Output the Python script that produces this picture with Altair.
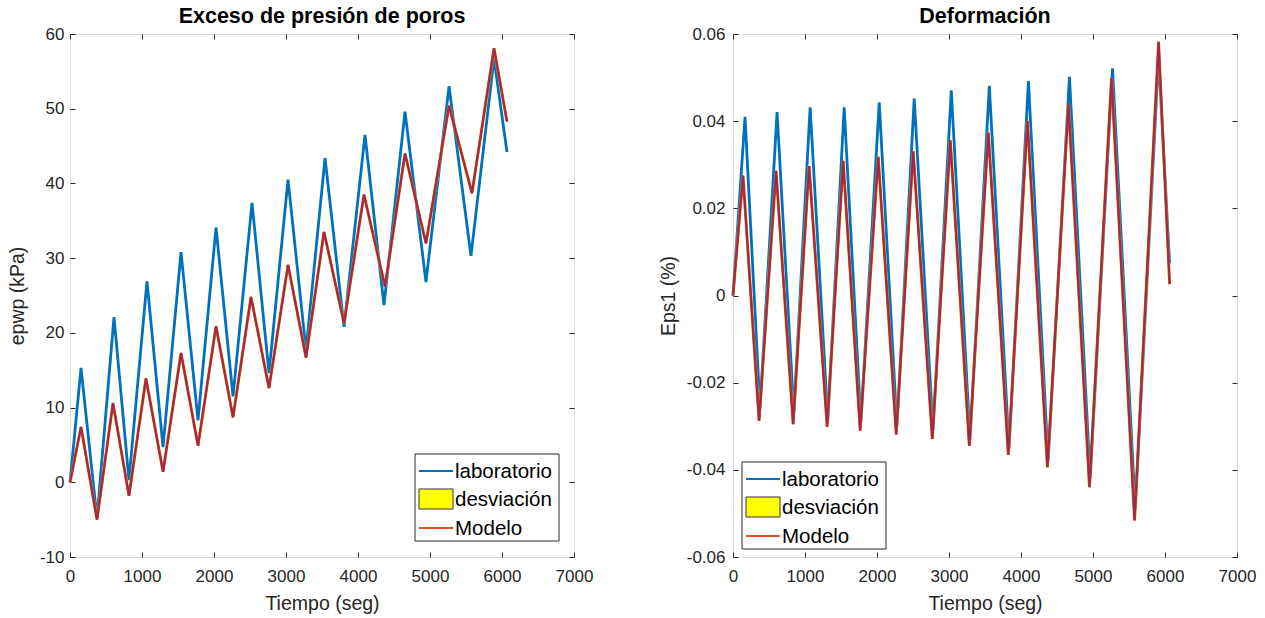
import altair as alt
import pandas as pd

# ---------------- data ----------------
# Left panel: excess pore pressure (kPa)
lab_t_left = [0, 153, 375, 611, 819, 1069, 1292, 1542, 1778, 2028, 2264, 2528, 2764,
              3028, 3278, 3542, 3806, 4097, 4361, 4653, 4944, 5264, 5569, 5889, 6069]
lab_v_left = [0, 15.3, -4.8, 22.1, 0.3, 26.9, 4.7, 30.8, 8.3, 34.1, 11.5, 37.4, 14.6,
              40.5, 17.7, 43.4, 20.8, 46.5, 23.7, 49.6, 26.8, 53.0, 30.3, 56.7, 44.2]
mod_t_left = [0, 153, 375, 597, 819, 1055, 1292, 1542, 1778, 2028, 2264, 2514, 2764,
              3028, 3278, 3528, 3806, 4083, 4375, 4653, 4944, 5264, 5583, 5889, 6069]
mod_v_left = [0, 7.4, -5.0, 10.6, -1.8, 13.9, 1.4, 17.3, 4.9, 20.9, 8.7, 24.8, 12.6,
              29.1, 16.7, 33.5, 21.3, 38.5, 26.2, 44.0, 32.0, 50.4, 38.7, 58.1, 48.3]

# Right panel: strain Eps1 (%)
lab_t_right = [0, 167, 375, 612, 845, 1071, 1317, 1544, 1776, 2031, 2277, 2517, 2778,
               3032, 3292, 3560, 3834, 4103, 4377, 4673, 4961, 5271, 5587, 5911, 6064]
lab_v_right = [0, 0.0410, -0.0260, 0.0421, -0.0270, 0.0432, -0.0285, 0.0432, -0.0290,
               0.0443, -0.0300, 0.0452, -0.0310, 0.0471, -0.0330, 0.0481, -0.0350,
               0.0492, -0.0380, 0.0502, -0.0420, 0.0521, -0.0490, 0.0547, 0.0074]
mod_t_right = [0, 139, 362, 598, 835, 1057, 1307, 1530, 1766, 2017, 2267, 2503, 2768,
               3018, 3282, 3546, 3824, 4089, 4367, 4659, 4951, 5257, 5577, 5911, 6064]
mod_v_right = [0, 0.0275, -0.0288, 0.0286, -0.0295, 0.0297, -0.0301, 0.0309, -0.0310,
               0.0318, -0.0319, 0.0331, -0.0329, 0.0356, -0.0345, 0.0374, -0.0366,
               0.0401, -0.0394, 0.0439, -0.0440, 0.0499, -0.0516, 0.0582, 0.0026]

x_ticks = [0, 1000, 2000, 3000, 4000, 5000, 6000, 7000]
y_ticks_left = [-10, 0, 10, 20, 30, 40, 50, 60]
y_ticks_right = [-0.06, -0.04, -0.02, 0, 0.02, 0.04, 0.06]
legend_labels = ["laboratorio", "desviación", "Modelo"]
panel_titles = ["Exceso de presión de poros", "Deformación"]
y_titles = ["epwp (kPa)", "Eps1 (%)"]
x_title = "Tiempo (seg)"

BLUE = "#0072BD"
ORANGE = "#D95319"
DARKRED = "#A02850"
YELLOW = "#FFFF00"
AX = "#262626"
W, H = 504, 523


def panel(lab_t, lab_v, mod_t, mod_v, ydom, yticks, ytitle, title, yexpr,
          ytitle_x, ylabpad, lx, ly):
    lab = pd.DataFrame({"t": lab_t, "v": lab_v})
    mod = pd.DataFrame({"t": mod_t, "v": mod_v})
    xs = alt.Scale(domain=[0, 7000], nice=False, zero=False)
    ys = alt.Scale(domain=ydom, nice=False, zero=False)

    common = dict(domain=False, grid=False, offset=-5, tickSize=5, tickColor=AX,
                  tickWidth=1, labelColor=AX, labelFontSize=17, labelFlush=False,
                  labelOverlap=False)
    x_bottom = alt.Axis(values=x_ticks, format="d", orient="bottom", title=x_title,
                        labelPadding=11, titleFontSize=19.5, titleColor=AX,
                        titleFontWeight="normal", titleY=51, titleBaseline="middle",
                        **common)
    y_left = alt.Axis(values=yticks, orient="left", title=ytitle, labelExpr=yexpr,
                      labelPadding=ylabpad, titleFontSize=19.5, titleColor=AX,
                      titleFontWeight="normal", titleX=ytitle_x, titleY=H / 2,
                      titleAngle=270, titleAlign="center", titleBaseline="middle",
                      **common)
    x_top = alt.Axis(values=x_ticks, orient="top", labels=False, title=None, **common)
    y_right = alt.Axis(values=yticks, orient="right", labels=False, title=None, **common)

    lab_line = alt.Chart(lab).mark_line(color=BLUE, strokeWidth=2.8).encode(
        x=alt.X("t:Q", scale=xs, axis=x_bottom),
        y=alt.Y("v:Q", scale=ys, axis=y_left),
        order="t:Q",
    )
    frame = alt.Chart(lab).mark_line(opacity=0).encode(
        x=alt.X("t:Q", scale=xs, axis=x_top),
        y=alt.Y("v:Q", scale=ys, axis=y_right),
    )

    def mline(color, width, op=1.0):
        return alt.Chart(mod).mark_line(color=color, strokeWidth=width, opacity=op).encode(
            x=alt.X("t:Q", scale=xs, axis=None),
            y=alt.Y("v:Q", scale=ys, axis=None),
            order="t:Q",
        )

    one = pd.DataFrame({"k": [0]})
    box = alt.Chart(one).mark_rect(fill="white", stroke=AX, strokeWidth=1).encode(
        x=alt.value(lx), x2=alt.value(lx + 144), y=alt.value(ly), y2=alt.value(ly + 87))
    sw1 = alt.Chart(one).mark_rule(color=BLUE, strokeWidth=2).encode(
        x=alt.value(lx + 4), x2=alt.value(lx + 38), y=alt.value(ly + 17))
    sw2 = alt.Chart(one).mark_rect(fill=YELLOW, stroke="#333333", strokeWidth=1).encode(
        x=alt.value(lx + 4), x2=alt.value(lx + 38), y=alt.value(ly + 35), y2=alt.value(ly + 55))
    sw3 = alt.Chart(one).mark_rule(color=ORANGE, strokeWidth=2).encode(
        x=alt.value(lx + 4), x2=alt.value(lx + 38), y=alt.value(ly + 74))
    texts = []
    for lab_txt, yy in zip(legend_labels, [17, 45, 74]):
        texts.append(
            alt.Chart(one).mark_text(align="left", baseline="middle", fontSize=20.5,
                                     color="#000000").encode(
                x=alt.value(lx + 40), y=alt.value(ly + yy + 1), text=alt.value(lab_txt))
        )

    layers = [lab_line, frame, mline(YELLOW, 3.6, 0.35), mline(ORANGE, 2.8),
              mline(DARKRED, 2.0), box, sw1, sw2, sw3] + texts
    return alt.layer(*layers).properties(
        width=W, height=H,
        title=alt.TitleParams(title, fontSize=21.5, fontWeight="bold", color="#000000",
                              offset=-2, anchor="middle"),
    ).resolve_axis(x="independent", y="independent")


expr_left = "datum.value < 0 ? '-' + format(-datum.value, 'd') : format(datum.value, 'd')"
expr_right = ("datum.value == 0 ? '0' : (datum.value < 0 ? '-' + format(-datum.value, '.2f')"
              " : format(datum.value, '.2f'))")

left = panel(lab_t_left, lab_v_left, mod_t_left, mod_v_left, [-10, 60], y_ticks_left,
             y_titles[0], panel_titles[0], expr_left, -58, 6, 345, 420)
right = panel(lab_t_right, lab_v_right, mod_t_right, mod_v_right, [-0.06, 0.06],
              y_ticks_right, y_titles[1], panel_titles[1], expr_right, -70, 8, 9, 428)

chart = alt.hconcat(left, right, spacing=159, bounds="flush").properties(
    padding={"left": 6, "top": 5, "right": 5, "bottom": 2},
    background="white",
).configure_view(stroke=AX, strokeWidth=1).configure(font="Liberation Sans")

chart.save("out.html", embed_options={"renderer": "svg", "actions": False})
